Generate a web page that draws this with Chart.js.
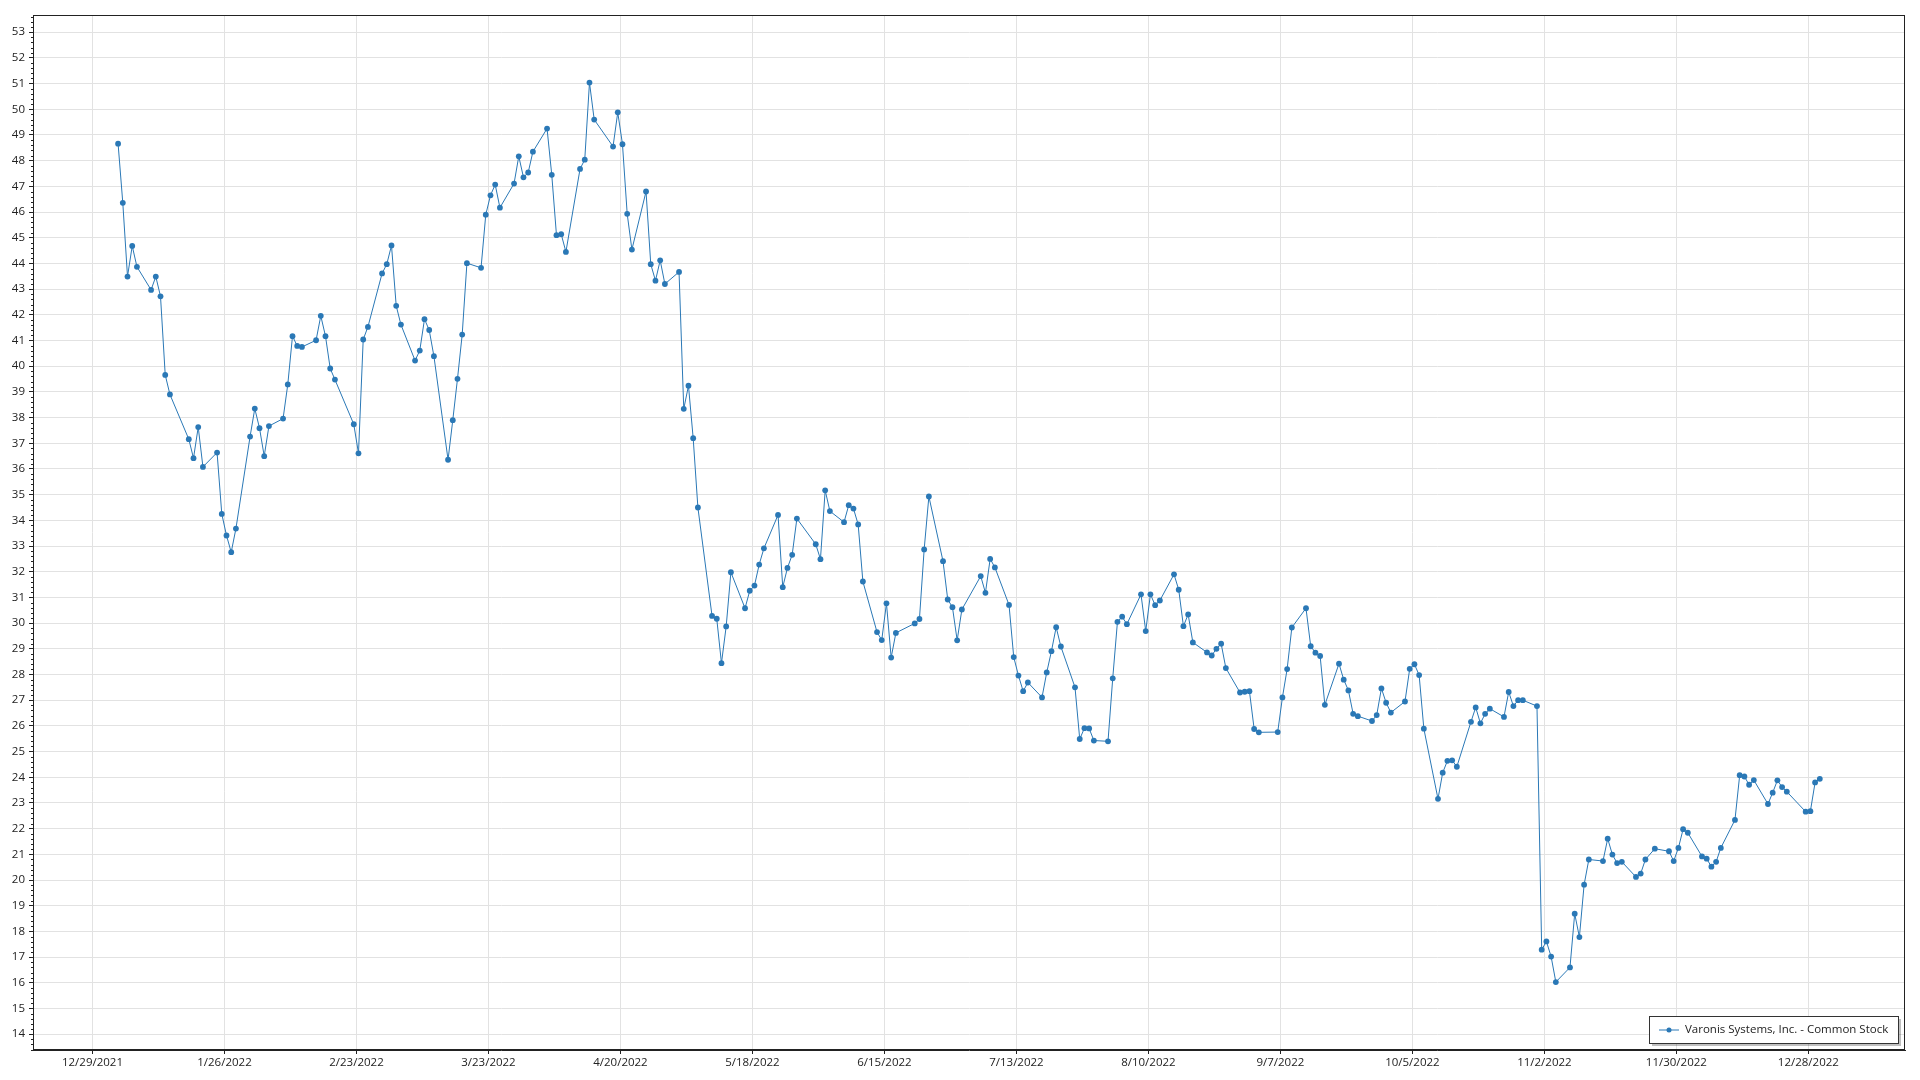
<!DOCTYPE html>
<html>
<head>
<meta charset="utf-8">
<title>Varonis Systems, Inc. - Common Stock</title>
<script src="https://cdn.jsdelivr.net/npm/chart.js@4.4.0/dist/chart.umd.min.js"></script>
<style>
  html, body { margin: 0; padding: 0; background: #fff; }
  canvas { display: block; }
</style>
</head>
<body>
<canvas id="priceChart" width="1920" height="1080"></canvas>
<script>
const seriesName = 'Varonis Systems, Inc. - Common Stock';

// trading days of 2022, one row per month
const tradeDays = [
  '1/3','1/4','1/5','1/6','1/7','1/10','1/11','1/12','1/13','1/14','1/18','1/19','1/20','1/21','1/24','1/25','1/26','1/27','1/28','1/31',
  '2/1','2/2','2/3','2/4','2/7','2/8','2/9','2/10','2/11','2/14','2/15','2/16','2/17','2/18','2/22','2/23','2/24','2/25','2/28',
  '3/1','3/2','3/3','3/4','3/7','3/8','3/9','3/10','3/11','3/14','3/15','3/16','3/17','3/18','3/21','3/22','3/23','3/24','3/25','3/28','3/29','3/30','3/31',
  '4/1','4/4','4/5','4/6','4/7','4/8','4/11','4/12','4/13','4/14','4/18','4/19','4/20','4/21','4/22','4/25','4/26','4/27','4/28','4/29',
  '5/2','5/3','5/4','5/5','5/6','5/9','5/10','5/11','5/12','5/13','5/16','5/17','5/18','5/19','5/20','5/23','5/24','5/25','5/26','5/27','5/31',
  '6/1','6/2','6/3','6/6','6/7','6/8','6/9','6/10','6/13','6/14','6/15','6/16','6/17','6/21','6/22','6/23','6/24','6/27','6/28','6/29','6/30',
  '7/1','7/5','7/6','7/7','7/8','7/11','7/12','7/13','7/14','7/15','7/18','7/19','7/20','7/21','7/22','7/25','7/26','7/27','7/28','7/29',
  '8/1','8/2','8/3','8/4','8/5','8/8','8/9','8/10','8/11','8/12','8/15','8/16','8/17','8/18','8/19','8/22','8/23','8/24','8/25','8/26','8/29','8/30','8/31',
  '9/1','9/2','9/6','9/7','9/8','9/9','9/12','9/13','9/14','9/15','9/16','9/19','9/20','9/21','9/22','9/23','9/26','9/27','9/28','9/29','9/30',
  '10/3','10/4','10/5','10/6','10/7','10/10','10/11','10/12','10/13','10/14','10/17','10/18','10/19','10/20','10/21','10/24','10/25','10/26','10/27','10/28','10/31',
  '11/1','11/2','11/3','11/4','11/7','11/8','11/9','11/10','11/11','11/14','11/15','11/16','11/17','11/18','11/21','11/22','11/23','11/25','11/28','11/29','11/30',
  '12/1','12/2','12/5','12/6','12/7','12/8','12/9','12/12','12/13','12/14','12/15','12/16','12/19','12/20','12/21','12/22','12/23','12/27','12/28','12/29','12/30'
];

// closing prices, same order
const closes = [
  48.66,46.36,43.49,44.68,43.87,42.97,43.49,42.72,39.66,38.90,37.16,36.42,37.63,36.08,36.64,34.25,33.41,32.76,33.68,37.26,
  38.35,37.59,36.50,37.67,37.96,39.29,41.17,40.79,40.75,41.01,41.96,41.17,39.91,39.48,37.74,36.61,41.04,41.53,43.61,
  43.97,44.70,42.35,41.62,40.22,40.61,41.83,41.41,40.39,36.36,37.90,39.51,41.23,44.01,43.83,45.90,46.65,47.07,46.17,47.11,48.17,47.35,47.54,
  48.35,49.25,47.45,45.10,45.14,44.45,47.68,48.04,51.04,49.60,48.55,49.88,48.64,45.93,44.54,46.80,43.97,43.33,44.12,43.20,
  43.67,38.34,39.24,37.20,34.50,30.28,30.17,28.44,29.87,31.98,30.58,31.26,31.46,32.28,32.91,34.21,31.40,32.15,32.66,34.07,33.07,
  32.49,35.17,34.36,33.93,34.59,34.46,33.84,31.62,29.65,29.34,30.77,28.66,29.62,29.99,30.16,32.87,34.93,32.41,30.92,30.62,29.33,
  30.53,31.83,31.18,32.50,32.17,30.71,28.68,27.96,27.35,27.69,27.11,28.08,28.91,29.84,29.09,27.50,25.49,25.91,25.90,25.43,
  25.40,27.85,30.05,30.25,29.96,31.12,29.69,31.12,30.70,30.88,31.90,31.30,29.88,30.34,29.25,28.86,28.74,29.00,29.20,28.25,27.30,27.33,27.35,
  25.88,25.75,25.76,27.11,28.21,29.83,30.58,29.10,28.85,28.72,26.82,28.42,27.80,27.38,26.47,26.38,26.19,26.42,27.46,26.90,26.52,
  26.95,28.22,28.40,27.98,25.89,23.16,24.18,24.64,24.66,24.41,26.16,26.72,26.10,26.47,26.67,26.35,27.32,26.77,27.00,27.00,26.77,
  17.29,17.61,17.02,16.03,16.60,18.69,17.78,19.82,20.80,20.74,21.61,20.99,20.66,20.71,20.12,20.25,20.80,21.22,21.12,20.74,21.25,
  21.98,21.84,20.92,20.83,20.52,20.71,21.25,22.34,24.08,24.03,23.71,23.89,22.96,23.40,23.88,23.62,23.44,22.66,22.68,23.80,23.94
];

const xTickLabels = ['12/29/2021','1/26/2022','2/23/2022','3/23/2022','4/20/2022','5/18/2022','6/15/2022',
  '7/13/2022','8/10/2022','9/7/2022','10/5/2022','11/2/2022','11/30/2022','12/28/2022'];
const yTickValues = [14,15,16,17,18,19,20,21,22,23,24,25,26,27,28,29,30,31,32,33,
  34,35,36,37,38,39,40,41,42,43,44,45,46,47,48,49,50,51,52,53];

// day numbers counted from the first x tick
const ORIGIN = Date.UTC(2021, 11, 29);
const SAMPLE_HOUR = 10.3;
function dayNum(label) {
  const [m, d, y] = label.split('/').map(Number);
  return (Date.UTC(y, m - 1, d) - ORIGIN) / 864e5;
}
const xTickValues = xTickLabels.map(dayNum);
const points = tradeDays.map((t, i) => ({ x: dayNum(t + '/2022') + SAMPLE_HOUR / 24, y: closes[i] }));

const lineColor = '#2a78b6';
const fontFamily = "'Open Sans', 'Noto Sans', sans-serif";

const framePlugin = {
  id: 'frame',
  afterDraw(chart) {
    const { ctx, chartArea: a, scales } = chart;
    ctx.save();
    ctx.strokeStyle = '#222';
    ctx.lineWidth = 1;
    ctx.strokeRect(Math.round(a.left) + 0.5, Math.round(a.top) + 0.5,
      Math.round(a.right - a.left) - 1, Math.round(a.bottom - a.top) - 1);

    // minor ticks on the value axis
    const y = scales.y;
    ctx.beginPath();
    for (let v = Math.ceil(y.min * 5); v <= Math.floor(y.max * 5); v++) {
      if (v % 5 === 0) continue;
      const py = Math.round(y.getPixelForValue(v / 5)) + 0.5;
      ctx.moveTo(a.left, py);
      ctx.lineTo(a.left - 2, py);
    }
    ctx.stroke();

    // legend box in the lower right
    ctx.font = '11.5px ' + fontFamily;
    const tw = ctx.measureText(seriesName).width;
    const bw = Math.round(36 + tw + 10), bh = 27;
    const bx = Math.round(a.right - 7 - bw), by = Math.round(a.bottom - 34);
    ctx.fillStyle = 'rgba(0,0,0,0.25)';
    ctx.fillRect(bx + 3, by + 3, bw, bh);
    ctx.fillStyle = '#fff';
    ctx.fillRect(bx, by, bw, bh);
    ctx.strokeStyle = '#333';
    ctx.strokeRect(bx + 0.5, by + 0.5, bw, bh);
    const cy = by + bh / 2 + 0.5;
    ctx.strokeStyle = lineColor;
    ctx.beginPath();
    ctx.moveTo(bx + 10, cy);
    ctx.lineTo(bx + 30, cy);
    ctx.stroke();
    ctx.fillStyle = lineColor;
    ctx.beginPath();
    ctx.arc(bx + 20, cy, 2.5, 0, Math.PI * 2);
    ctx.fill();
    ctx.fillStyle = '#222';
    ctx.textBaseline = 'middle';
    ctx.textAlign = 'left';
    ctx.fillText(seriesName, bx + 36, cy);
    ctx.restore();
  }
};

const canvas = document.getElementById('priceChart');
const ctx = canvas.getContext('2d');

new Chart(ctx, {
  type: 'line',
  data: {
    datasets: [{
      label: seriesName,
      data: points,
      borderColor: lineColor,
      backgroundColor: lineColor,
      borderWidth: 1,
      pointRadius: 2.9,
      pointBorderWidth: 0,
      pointHoverRadius: 3,
      tension: 0
    }]
  },
  options: {
    responsive: false,
    animation: false,
    devicePixelRatio: 1,
    layout: { padding: { top: 15, right: 15, left: 0, bottom: 0 } },
    scales: {
      x: {
        type: 'linear',
        min: -12.62,
        max: 384.5,
        afterBuildTicks(scale) { scale.ticks = xTickValues.map(v => ({ value: v })); },
        afterFit(scale) { scale.height = 30; },
        ticks: {
          autoSkip: false,
          maxRotation: 0,
          padding: 2,
          color: '#222',
          font: { family: fontFamily, size: 11.5 },
          callback: (v, i) => xTickLabels[i]
        },
        grid: { color: '#e2e2e2', tickColor: '#222', tickLength: 4 },
        border: { color: '#222', width: 1 }
      },
      y: {
        min: 13.385,
        max: 53.67,
        afterBuildTicks(scale) { scale.ticks = yTickValues.map(v => ({ value: v })); },
        afterFit(scale) { scale.width = 33; },
        ticks: {
          autoSkip: false,
          padding: 4,
          color: '#222',
          font: { family: fontFamily, size: 11.5 }
        },
        grid: { color: '#e2e2e2', tickColor: '#222', tickLength: 4 },
        border: { color: '#222', width: 1 }
      }
    },
    plugins: {
      legend: { display: false },
      title: { display: false },
      tooltip: { enabled: false }
    }
  },
  plugins: [framePlugin]
});
</script>
</body>
</html>
